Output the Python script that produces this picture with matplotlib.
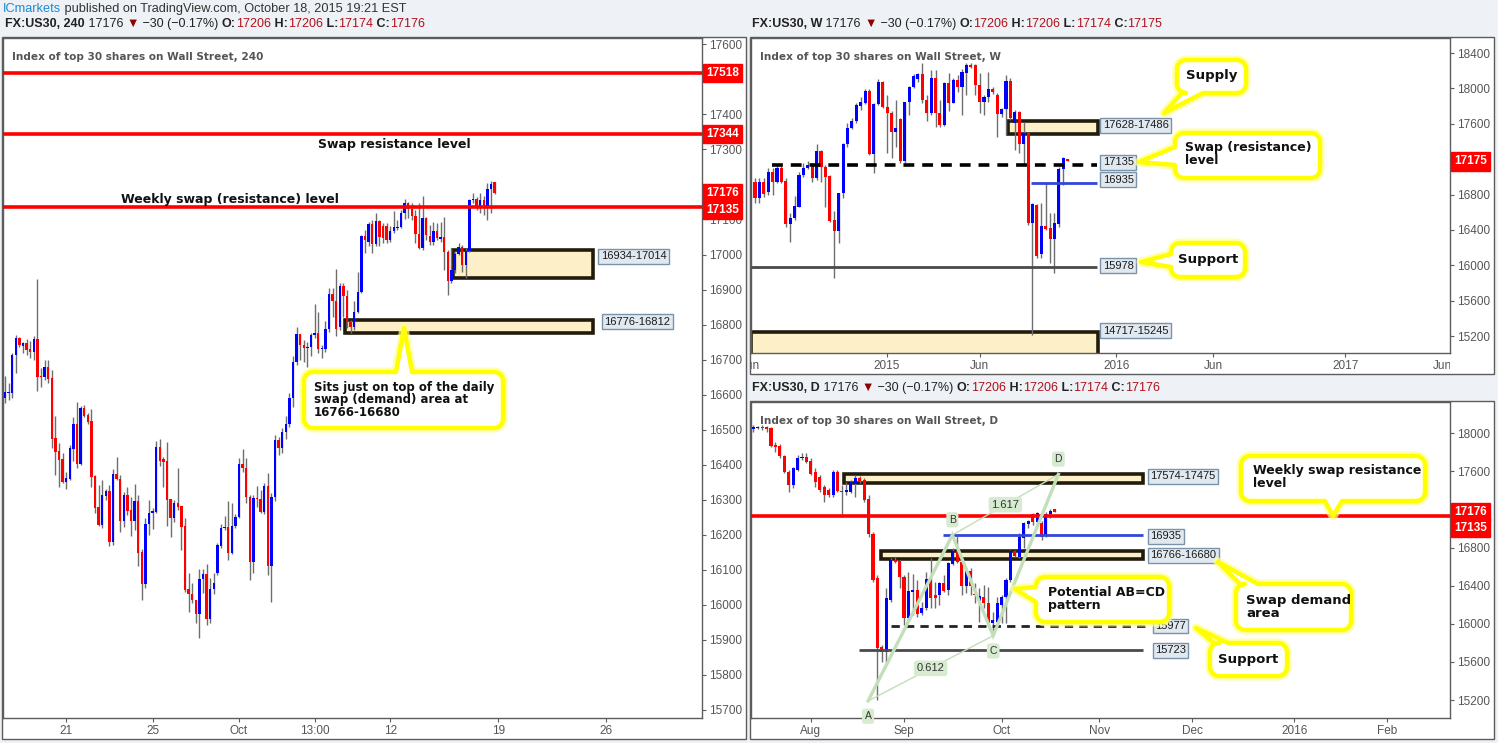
import numpy as np
import matplotlib
matplotlib.use("Agg")
import matplotlib.pyplot as plt
from matplotlib.patches import Rectangle, Polygon
from matplotlib.transforms import Bbox, TransformedBbox

W, H = 1498, 743
SANS = ["Liberation Sans", "DejaVu Sans"]
BOLD = ["DejaVu Sans"]
BULL, BEAR, WICK = "#0000ff", "#ff0000", "#6e6e6e"
ZONE_FILL, ZONE_EDGE = "#fdf0c8", "#211b0b"
TAG_FILL, TAG_EDGE = "#e1e9f0", "#7b93a9"
GREEN = "#c2dfba"
BG = "#eef1f5"

# ---- 4H candles (FX:US30, 240) ----
h4_open = [16589, 16605, 16606, 16712, 16761, 16740, 16747, 16730, 16723, 16759,
           16650, 16649, 16679, 16648, 16475, 16438, 16415, 16352, 16359, 16445,
           16516, 16403, 16562, 16542, 16525, 16368, 16279, 16228, 16312, 16325,
           16180, 16374, 16360, 16238, 16314, 16271, 16239, 16296, 16151, 16060,
           16231, 16261, 16266, 16451, 16415, 16411, 16301, 16247, 16290, 16282,
           16225, 16044, 16030, 16014, 15973, 16073, 16087, 15961, 16044, 16090,
           16169, 16219, 16221, 16147, 16226, 16250, 16402, 16390, 16307, 16123,
           16304, 16301, 16264, 16339, 16112, 16307, 16471, 16447, 16493, 16516,
           16590, 16694, 16773, 16742, 16732, 16737, 16771, 16775, 16730, 16730,
           16788, 16887, 16867, 16794, 16910, 16882, 16808, 16792, 16837, 16892,
           17053, 17037, 17087, 17030, 17097, 17082, 17082, 17042, 17068, 17076,
           17078, 17118, 17146, 17129, 17110, 17059, 17018, 17104, 17053, 17037,
           17066, 17045, 17049, 17008, 16923, 16956, 17002, 17021, 16970, 17010,
           17156, 17158, 17139, 17156, 17139, 17186, 17206]
h4_high = [16653, 16634, 16718, 16770, 16764, 16751, 16758, 16753, 16768, 16930,
           16677, 16699, 16699, 16671, 16539, 16463, 16432, 16379, 16456, 16536,
           16578, 16569, 16571, 16549, 16559, 16371, 16342, 16356, 16332, 16342,
           16388, 16422, 16371, 16321, 16335, 16307, 16345, 16314, 16158, 16247,
           16299, 16276, 16468, 16473, 16423, 16465, 16301, 16299, 16390, 16282,
           16247, 16090, 16063, 16014, 16101, 16101, 16116, 16076, 16092, 16176,
           16231, 16254, 16297, 16290, 16259, 16418, 16444, 16418, 16314, 16314,
           16339, 16328, 16347, 16375, 16318, 16485, 16480, 16504, 16539, 16604,
           16711, 16794, 16773, 16756, 16751, 16775, 16859, 16837, 16742, 16809,
           16904, 16904, 16959, 16918, 16918, 16899, 16813, 16867, 16951, 17056,
           17070, 17094, 17099, 17118, 17099, 17089, 17089, 17080, 17123, 17099,
           17127, 17158, 17151, 17146, 17127, 17146, 17167, 17108, 17084, 17094,
           17089, 17094, 17108, 17013, 17018, 17008, 17032, 17027, 17018, 17158,
           17175, 17165, 17175, 17167, 17203, 17210, 17206]
h4_low = [16577, 16585, 16590, 16663, 16735, 16720, 16713, 16706, 16699, 16609,
          16623, 16642, 16634, 16449, 16371, 16335, 16349, 16330, 16355, 16412,
          16390, 16399, 16537, 16516, 16335, 16261, 16226, 16218, 16299, 16169,
          16171, 16356, 16207, 16223, 16257, 16197, 16214, 16111, 16014, 16047,
          16199, 16216, 16263, 16397, 16337, 16226, 16195, 16237, 16271, 16157,
          16038, 15979, 16004, 15947, 15904, 16033, 15942, 15947, 16030, 16085,
          16161, 16214, 16128, 16144, 16219, 16247, 16380, 16290, 16071, 16090,
          16280, 16261, 16259, 16085, 16009, 16295, 16428, 16433, 16473, 16509,
          16566, 16685, 16699, 16694, 16680, 16709, 16761, 16718, 16704, 16723,
          16780, 16823, 16766, 16785, 16823, 16789, 16775, 16785, 16832, 16889,
          17004, 17023, 17004, 17024, 17023, 17034, 17032, 17037, 17062, 17070,
          17075, 17101, 17104, 17099, 17032, 17015, 17013, 17042, 17027, 17027,
          17040, 17037, 16956, 16885, 16918, 16946, 16999, 16951, 16932, 17008,
          17146, 17127, 17118, 17113, 17099, 17118, 17174]
h4_close = [16608, 16607, 16712, 16761, 16741, 16747, 16728, 16723, 16759, 16649,
            16649, 16679, 16646, 16474, 16437, 16414, 16352, 16361, 16447, 16516,
            16403, 16562, 16540, 16523, 16366, 16277, 16228, 16314, 16325, 16180,
            16374, 16358, 16238, 16314, 16269, 16239, 16296, 16149, 16060, 16231,
            16261, 16269, 16451, 16412, 16409, 16300, 16247, 16292, 16280, 16223,
            16042, 16030, 16014, 15973, 16073, 16087, 15961, 16044, 16063, 16171,
            16219, 16221, 16147, 16226, 16250, 16402, 16390, 16307, 16123, 16304,
            16301, 16264, 16339, 16112, 16307, 16471, 16447, 16493, 16516, 16590,
            16694, 16773, 16742, 16732, 16737, 16771, 16775, 16730, 16731, 16788,
            16888, 16866, 16787, 16910, 16882, 16808, 16792, 16837, 16892, 17053,
            17040, 17087, 17030, 17097, 17051, 17048, 17042, 17068, 17078, 17078,
            17118, 17146, 17129, 17110, 17059, 17018, 17104, 17056, 17037, 17066,
            17046, 17049, 17008, 16923, 16956, 17002, 17021, 16970, 17010, 17156,
            17158, 17139, 17156, 17139, 17186, 17201, 17176]
h4_ticks = [17, 41, 65, 86, 107, 137, 167]
h4_ticklabels = ["21", "25", "Oct", "13:00", "12", "19", "26"]

# ---- weekly candles ----
w_open = [16945, 16764, 16945, 16832, 17058, 16945, 17103, 16953, 16466, 16538,
          16663, 17021, 17096, 17141, 16990, 17296, 17115, 17009, 16512, 16387,
          16813, 17367, 17556, 17631, 17800, 17838, 17974, 17254, 17823, 18076,
          17786, 17725, 17511, 17650, 17179, 17842, 18019, 18110, 18163, 17869,
          17725, 18114, 17718, 17586, 18065, 17838, 18095, 18012, 18178, 18264,
          18264, 18038, 17850, 17899, 17989, 17925, 17706, 17763, 18083, 17605,
          17737, 17367, 17491, 16474, 16682, 16123, 16448, 16425, 16297, 16467,
          17088, 17206]
w_high = [16983, 16983, 16983, 17096, 17096, 17134, 17134, 16983, 16587, 16783,
          17058, 17152, 17179, 17152, 17367, 17303, 17134, 17021, 16613, 16821,
          17378, 17605, 17661, 17831, 17899, 17989, 17989, 17831, 18102, 18087,
          17925, 17744, 17869, 17661, 17850, 18027, 18163, 18170, 18283, 17925,
          18208, 18208, 17869, 18076, 18170, 18114, 18151, 18215, 18283, 18283,
          18276, 18178, 17925, 18189, 18019, 17944, 17774, 18151, 18114, 17756,
          17744, 17624, 17510, 16700, 16693, 16700, 16945, 16587, 16587, 17115,
          17228, 17206]
w_low = [16708, 16700, 16775, 16794, 16794, 16926, 16926, 16436, 16267, 16512,
         16663, 17002, 17088, 16945, 16964, 16945, 16663, 16493, 15860, 16248,
         16757, 17341, 17537, 17605, 17756, 17823, 17247, 17039, 17812, 17774,
         17266, 17209, 17341, 17152, 17160, 17699, 18008, 18068, 17831, 17635,
         17699, 17567, 17567, 17575, 17748, 17831, 17963, 17699, 17925, 18227,
         17925, 17718, 17699, 17850, 17940, 17454, 17680, 17473, 17642, 17303,
         17266, 17134, 16455, 15211, 16078, 16078, 16399, 16022, 15909, 16436,
         16907, 17174]
w_close = [16764, 16945, 16806, 17058, 16945, 17103, 16945, 16466, 16538, 16670,
           17021, 17103, 17134, 16990, 17296, 17115, 17002, 16504, 16387, 16813,
           17367, 17556, 17631, 17812, 17850, 17974, 17254, 17823, 18076, 17786,
           17718, 17511, 17548, 17179, 17842, 18019, 18140, 18163, 17869, 17725,
           18114, 17718, 17586, 18065, 17838, 18095, 18012, 18189, 18264, 18245,
           18038, 17850, 17899, 17989, 17963, 17706, 17763, 18083, 17661, 17737,
           17367, 17499, 16474, 16693, 16105, 16448, 16410, 16297, 16482, 17088,
           17216, 17175]
w_ticks = [30, 51, 82, 104, 134]
w_ticklabels = ["2015", "Jun", "2016", "Jun", "2017"]
w_clipped_ticks = [-1, 156]

# ---- daily candles (index 0 = 1 Oct 2015) ----
d_first = -56
d_open = [18045, 18059, 18069, 18066, 18052, 17877, 17867, 17758, 17597, 17457,
          17615, 17737, 17751, 17709, 17590, 17545, 17440, 17405, 17352, 17597,
          17394, 17380, 17387, 17464, 17527, 17510, 17306, 16946, 16477, 15752,
          15707, 16250, 16670, 16663, 16495, 16064, 16337, 16355, 16110, 16162,
          16470, 16302, 16302, 16425, 16355, 16624, 16764, 16652, 16400, 16557,
          16312, 16215, 16284, 16215, 16004, 16022, 16197, 16284, 16460, 16764,
          16705, 16904, 17044, 17149, 17065, 17054, 16932, 17152, 17206]
d_high = [18087, 18080, 18087, 18073, 18069, 17905, 17884, 17772, 17615, 17650,
          17772, 17790, 17790, 17737, 17632, 17562, 17457, 17429, 17615, 17615,
          17457, 17492, 17510, 17562, 17552, 17527, 17352, 16967, 16512, 15780,
          16372, 16687, 16705, 16670, 16512, 16547, 16519, 16460, 16232, 16547,
          16687, 16442, 16442, 16512, 16652, 16792, 16925, 16670, 16582, 16582,
          16425, 16372, 16407, 16390, 16127, 16284, 16302, 16477, 16775, 16775,
          16950, 17072, 17090, 17160, 17177, 17079, 17177, 17202, 17206]
d_low = [18017, 18045, 18034, 18010, 17860, 17800, 17744, 17580, 17387, 17422,
         17604, 17720, 17684, 17562, 17440, 17387, 17275, 17335, 17335, 17380,
         17125, 17352, 17370, 17335, 17475, 17282, 16914, 16442, 15200, 15600,
         15585, 16232, 16635, 16372, 15987, 16040, 16092, 16074, 16092, 16145,
         16162, 16162, 16197, 16337, 16302, 16617, 16635, 16302, 16320, 16302,
         16215, 16022, 16162, 15994, 15917, 16004, 16004, 16004, 16442, 16705,
         16687, 16792, 17002, 17037, 17037, 16880, 16914, 17107, 17174]
d_close = [18066, 18069, 18052, 18045, 17870, 17860, 17758, 17590, 17457, 17632,
           17744, 17755, 17702, 17572, 17492, 17405, 17352, 17352, 17597, 17394,
           17380, 17401, 17492, 17534, 17499, 17300, 16939, 16460, 15749, 15707,
           16267, 16670, 16652, 16495, 16064, 16347, 16355, 16099, 16169, 16470,
           16267, 16267, 16425, 16347, 16635, 16764, 16652, 16400, 16557, 16400,
           16302, 16292, 16215, 16004, 16039, 16215, 16284, 16460, 16764, 16715,
           16915, 17054, 17079, 17072, 17160, 16914, 17152, 17187, 17176]
d_ticks = [-43, -22, 0, 22, 43, 66, 87]
d_ticklabels = ["Aug", "Sep", "Oct", "Nov", "Dec", "2016", "Feb"]

# AB=CD pattern points (bar index, price) and ratios
abcd_x = [-30.1, -11.1, -1.9, 12.8]
abcd_y = [15190, 16932, 15875, 17569]
abcd_names = ["A", "B", "C", "D"]
abcd_ratios = ["0.612", "1.617"]

# levels and zones
h4_levels = [17518, 17344, 17135]
h4_zones = [(16934, 17014, 124.4, 163.3), (16776, 16812, 94.4, 163.3)]
w_supply = (17486, 17628, 57.4, 77.9)
w_demand = (14717, 15245, -0.9, 77.9)
w_swap, w_mid, w_support = 17135, 16935, 15978
d_supply = (17475, 17574, -35.5, 31.9)
d_demand = (16680, 16766, -27.2, 31.9)
d_mid, d_dash, d_support = 16935, 15977, 15723
last_close = 17176

fig = plt.figure(figsize=(W / 100, H / 100), dpi=100)
fig.patch.set_facecolor(BG)


def px_axes(x0, y0, x1, y1):
    return fig.add_axes([x0 / W, 1 - y1 / H, (x1 - x0) / W, (y1 - y0) / H])


def panel_box(x0, y0, x1, y1):
    fig.add_artist(Rectangle((x0 / W, 1 - y1 / H), (x1 - x0) / W, (y1 - y0) / H,
                             transform=fig.transFigure, fc="white", ec="#5c5c5c",
                             lw=1, zorder=-1))


def style_axes(ax, xlim, ylim, yticks, xticks, xlabels, hidden=()):
    ax.set_xlim(*xlim)
    ax.set_ylim(*ylim)
    ax.yaxis.tick_right()
    ax.set_yticks(yticks)
    ax.set_yticklabels(["" if v in hidden else str(v) for v in yticks])
    ax.set_xticks(xticks)
    ax.set_xticklabels(xlabels)
    ax.tick_params(direction="out", length=3, width=0.8, color="#5c5c5c",
                   labelcolor="#555555", labelsize=8.5, pad=2)
    for lab in ax.get_xticklabels() + ax.get_yticklabels():
        lab.set_family(SANS)
    for sp in ax.spines.values():
        sp.set_color("#5c5c5c")
        sp.set_linewidth(1)


def candles(ax, o, h, l, c, start, width, min_h):
    o, h, l, c = map(np.asarray, (o, h, l, c))
    x = start + np.arange(len(o))
    ax.vlines(x, l, h, color=WICK, lw=1, zorder=2)
    lo = np.minimum(o, c)
    ht = np.maximum(np.abs(c - o), min_h)
    cols = np.where(c >= o, BULL, BEAR)
    ax.bar(x, ht, width, bottom=lo, color=cols, lw=0, zorder=3)


def zone(ax, lo, hi, x0, x1):
    ax.add_patch(Rectangle((x0, lo), x1 - x0, hi - lo, fc=ZONE_FILL, ec=ZONE_EDGE,
                           lw=2.6, zorder=1))


def tag(ax, x, y, text, dy=0):
    ax.annotate(text, xy=(x, y), xytext=(0, dy), textcoords="offset points",
                ha="left", va="center", fontsize=8, family=SANS, color="#1a1a1a",
                bbox=dict(boxstyle="square,pad=0.22", fc=TAG_FILL, ec=TAG_EDGE, lw=1),
                zorder=6, annotation_clip=False)


def axis_label(ax, y, text, dy=0):
    ax.annotate(text, xy=(1, y), xycoords=("axes fraction", "data"),
                xytext=(3, dy), textcoords="offset points", ha="left", va="center",
                fontsize=8.5, family=SANS, fontweight="bold", color="white",
                bbox=dict(boxstyle="square,pad=0.28", fc="#ff0000", ec="#ff0000"),
                zorder=8, annotation_clip=False)


def rich_text(x, y, parts, size):
    renderer = fig.canvas.get_renderer()
    for text, color, weight in parts:
        t = fig.text(x / W, 1 - y / H, text, color=color, fontsize=size,
                     fontweight=weight, family=SANS, ha="left", va="center")
        x += t.get_window_extent(renderer=renderer).width


def callout(x0, y0, x1, y1, side, b1, b2, tip, r=9):
    def arc(cx, cy, a0, a1):
        a = np.radians(np.linspace(a0, a1, 8))
        return list(zip(cx + r * np.cos(a), cy + r * np.sin(a)))
    pts = [(x0 + r, y0)]
    if side == "top":
        pts += [(b1, y0), tip, (b2, y0)]
    pts += arc(x1 - r, y0 + r, -90, 0)
    if side == "right":
        pts += [(x1, b1), tip, (x1, b2)]
    pts += arc(x1 - r, y1 - r, 0, 90)
    if side == "bottom":
        pts += [(b2, y1), tip, (b1, y1)]
    pts += arc(x0 + r, y1 - r, 90, 180)
    if side == "left":
        pts += [(x0, b2), tip, (x0, b1)]
    pts += arc(x0 + r, y0 + r, 180, 270)
    xy = [(px / W, 1 - py / H) for px, py in pts]
    fig.add_artist(Polygon(xy, closed=True, transform=fig.transFigure, fc="none",
                           ec="#ffff90", lw=6.5, alpha=0.7, joinstyle="round", zorder=9))
    fig.add_artist(Polygon(xy, closed=True, transform=fig.transFigure, fc="white",
                           ec="#ffff00", lw=3.2, joinstyle="round", zorder=10))


def callout_text(x, y, text, ha="left", size=9):
    fig.text(x / W, 1 - y / H, text, ha=ha, va="center", fontsize=size,
             family=BOLD, fontweight="bold", color="#111111", linespacing=0.95,
             zorder=11)


def header(x, y, tf, close):
    dark, dred = "#222222", "#b0121b"
    parts = [("FX:US30, " + tf, dark, "bold"), (" 17176 ", dark, "normal"),
             ("\u25bc", "#8b0000", "normal"), (" \u221230 (\u22120.17%) ", dark, "normal"),
             ("O:", dark, "bold"), ("17206", dred, "normal"),
             (" H:", dark, "bold"), ("17206", dred, "normal"),
             (" L:", dark, "bold"), ("17174", dred, "normal"),
             (" C:", dark, "bold"), (close, dred, "normal")]
    rich_text(x, y, parts, 9)


# ---------------- panels ----------------
panel_box(2, 37, 746, 739)
panel_box(750, 37, 1494, 374)
panel_box(750, 401, 1494, 739)

# 4H panel
ax1 = px_axes(3, 38, 702, 718)
style_axes(ax1, (-0.56, 193.6), (15677, 17618), list(range(15700, 17601, 100)),
           h4_ticks, h4_ticklabels, hidden=(17500, 17200))
for lo, hi, x0, x1 in h4_zones:
    zone(ax1, lo, hi, x0, x1)
candles(ax1, h4_open, h4_high, h4_low, h4_close, 0, 0.7, 3)
for lvl in h4_levels:
    ax1.axhline(lvl, color="#ff0000", lw=2.6, zorder=4)
ax1.text(108, 17313, "Swap resistance level", ha="center", va="center", fontsize=9,
         family=BOLD, fontweight="bold", color="#111111", zorder=5)
ax1.text(62.5, 17158, "Weekly swap (resistance) level", ha="center", va="center",
         fontsize=9, family=BOLD, fontweight="bold", color="#111111", zorder=5)
ax1.text(0.013, 0.972, "Index of top 30 shares on Wall Street, 240", transform=ax1.transAxes,
         ha="left", va="center", fontsize=7.6, family=BOLD, fontweight="bold", color="#555555")
tag(ax1, 165.5, 16995, "16934-17014")
tag(ax1, 166.5, 16812, "16776-16812", dy=-1)
axis_label(ax1, 17518, "17518")
axis_label(ax1, 17344, "17344")
axis_label(ax1, last_close, "17176", dy=0)
axis_label(ax1, 17135, "17135", dy=-2)

# weekly panel
ax2 = px_axes(751, 38, 1450, 353)
style_axes(ax2, (-0.9, 157.8), (15008, 18570), list(range(15200, 18401, 400)),
           w_ticks, w_ticklabels, hidden=(17200,))
clip = TransformedBbox(Bbox([[0, -0.3], [1, 1]]), ax2.transAxes)
for xt in w_clipped_ticks:
    t = ax2.annotate("Jun", xy=(xt, 0), xycoords=("data", "axes fraction"),
                     xytext=(0, -5), textcoords="offset points", ha="center", va="top",
                     fontsize=8.5, family=SANS, color="#555555", annotation_clip=False)
    t.set_clip_box(clip)
    t.set_clip_on(True)
zone(ax2, *w_supply)
zone(ax2, *w_demand)
candles(ax2, w_open, w_high, w_low, w_close, 0, 0.7, 12)
ax2.hlines(w_swap, 3.8, 77.7, color="black", lw=2.6, linestyles=(0, (3, 2.2)), zorder=4)
ax2.hlines(w_mid, 62.7, 77.7, color="#3346d9", lw=2, zorder=4)
ax2.hlines(w_support, -0.9, 77.7, color="#4a4a4a", lw=2, zorder=4)
ax2.text(0.013, 0.94, "Index of top 30 shares on Wall Street, W", transform=ax2.transAxes,
         ha="left", va="center", fontsize=7.6, family=BOLD, fontweight="bold", color="#555555")
tag(ax2, 79.0, 17585, "17628-17486")
tag(ax2, 79.0, w_swap, "17135", dy=2)
tag(ax2, 79.0, w_mid, "16935", dy=2)
tag(ax2, 79.0, w_support, "15978", dy=1)
tag(ax2, 79.0, 15245, "14717-15245", dy=1)
axis_label(ax2, 17175, "17175")

# daily panel
ax3 = px_axes(751, 402, 1450, 718)
style_axes(ax3, (-56.5, 101.1), (15011, 18329), list(range(15200, 18001, 400)),
           d_ticks, d_ticklabels, hidden=(17200,))
zone(ax3, *d_supply)
zone(ax3, *d_demand)
candles(ax3, d_open, d_high, d_low, d_close, d_first, 0.7, 11)
ax3.axhline(17135, color="#ff0000", lw=2.6, zorder=4)
ax3.hlines(d_mid, -13.2, 31.9, color="#3346d9", lw=2, zorder=4)
ax3.hlines(d_dash, -25, 32.5, color="#222222", lw=2, linestyles=(0, (3, 2.2)), zorder=4)
ax3.hlines(d_support, -32.2, 31.9, color="#4a4a4a", lw=2, zorder=4)
ax3.plot(abcd_x, abcd_y, color=GREEN, lw=2.4, zorder=5, solid_joinstyle="miter")
ax3.plot(abcd_x[0::2], abcd_y[0::2], color=GREEN, lw=1, zorder=5)
ax3.plot(abcd_x[1::2], abcd_y[1::2], color=GREEN, lw=1, zorder=5)
name_dy = [-11, 11, -11, 11]
for xv, yv, name, dy in zip(abcd_x, abcd_y, abcd_names, name_dy):
    ax3.annotate(name, xy=(xv, yv), xytext=(0, dy), textcoords="offset points",
                 ha="center", va="center", fontsize=7.5, family=SANS, color="#333333",
                 bbox=dict(boxstyle="round,pad=0.25", fc="#d6ebd0", ec="none"), zorder=6)
for (i, j), ratio in zip([(0, 2), (1, 3)], abcd_ratios):
    ax3.annotate(ratio, xy=((abcd_x[i] + abcd_x[j]) / 2, (abcd_y[i] + abcd_y[j]) / 2),
                 ha="center", va="center", fontsize=8, family=SANS, color="#333333",
                 bbox=dict(boxstyle="round,pad=0.25", fc="#d6ebd0", ec="none"), zorder=6)
ax3.text(0.013, 0.94, "Index of top 30 shares on Wall Street, D", transform=ax3.transAxes,
         ha="left", va="center", fontsize=7.6, family=BOLD, fontweight="bold", color="#555555")
tag(ax3, 33.5, 17550, "17574-17475")
tag(ax3, 33.5, d_mid, "16935", dy=-1)
tag(ax3, 33.5, 16750, "16766-16680", dy=-2)
tag(ax3, 34.6, d_dash, "15977")
tag(ax3, 34.6, d_support, "15723")
axis_label(ax3, last_close, "17176", dy=0)
axis_label(ax3, 17135, "17135", dy=-8.5)

# ---------------- header texts ----------------
rich_text(3, 9, [("ICmarkets", "#1d8bd1", "normal"),
                 (" published on TradingView.com, October 18, 2015 19:21 EST", "#333333", "normal")], 9.2)
header(5, 24, "240", "17176")
header(752, 24, "W", "17175")
header(752, 388, "D", "17176")

# ---------------- callouts ----------------
callout(304, 372, 503, 428, "top", 396, 412, (404, 328))
callout_text(314, 400, "Sits just on top of the daily\nswap (demand) area at\n16766-16680", size=8.5)

callout(1177, 60, 1246, 93, "bottom", 1182, 1203, (1164, 113))
callout_text(1212, 76, "Supply", ha="center", size=9.5)
callout(1175, 133, 1320, 178, "left", 147, 165, (1139, 162))
callout_text(1185, 154, "Swap (resistance)\nlevel", size=9)
callout(1171, 243, 1245, 277, "left", 254, 267, (1141, 262))
callout_text(1208, 260, "Support", ha="center", size=9.5)

callout(1241, 456, 1425, 501, "bottom", 1325, 1342, (1333, 516))
callout_text(1253, 477, "Weekly swap resistance\nlevel", size=9)
callout(1036, 577, 1169, 622, "left", 587, 602, (1015, 589))
callout_text(1048, 599, "Potential AB=CD\npattern", size=9)
callout(1236, 584, 1351, 630, "top", 1240, 1258, (1218, 562))
callout_text(1246, 607, "Swap demand\narea", size=9.5)
callout(1210, 643, 1287, 676, "top", 1214, 1228, (1196, 628))
callout_text(1248, 659, "Support", ha="center", size=9.5)

fig.savefig("out.png", dpi=100, facecolor=fig.get_facecolor())
